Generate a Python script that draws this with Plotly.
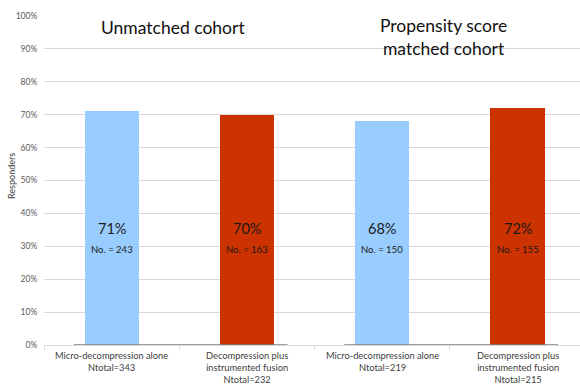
import plotly.graph_objects as go

# Responder rates by treatment group
categories = [
    "Micro-decompression alone<br>Ntotal=343",
    "Decompression plus<br>instrumented fusion<br>Ntotal=232",
    "Micro-decompression alone<br>Ntotal=219",
    "Decompression plus<br>instrumented fusion<br>Ntotal=215",
]
responder_rate = [0.71, 0.70, 0.68, 0.72]
responder_count = [243, 163, 150, 155]
bar_colors = ["#99CCFF", "#CC3300", "#99CCFF", "#CC3300"]
cohort_titles = ["Unmatched cohort", "Propensity score<br>matched cohort"]
y_ticks = [i / 10 for i in range(11)]

FONT = "Lato"
x_idx = list(range(len(categories)))
BAR_W = 0.4

fig = go.Figure()
fig.add_trace(go.Bar(
    x=x_idx, y=responder_rate, width=BAR_W,
    marker=dict(color=bar_colors, line=dict(width=0)),
    hoverinfo="skip",
))

annotations = []
for i, (v, n) in enumerate(zip(responder_rate, responder_count)):
    annotations.append(dict(x=i, y=0.353, xref="x", yref="y", text=f"{v:.0%}",
                            showarrow=False, font=dict(family=FONT, size=14.5, color="#1a1a1a")))
    annotations.append(dict(x=i, y=0.29, xref="x", yref="y", text=f"No. = {n}",
                            showarrow=False, font=dict(family=FONT, size=9.5, color="#1a1a1a")))
    annotations.append(dict(x=i, y=0, xref="x", yref="paper", yshift=-3, text=categories[i],
                            showarrow=False, yanchor="top", align="center",
                            font=dict(family=FONT, size=9.3, color="#404040")))

# cohort headings
annotations.append(dict(x=0.45, y=0.965, xref="x", yref="y", text=cohort_titles[0],
                        showarrow=False, yanchor="middle",
                        font=dict(family=FONT, size=17.5, color="#111111")))
annotations.append(dict(x=2.45, y=0.935, xref="x", yref="y", text=cohort_titles[1],
                        showarrow=False, yanchor="middle",
                        font=dict(family=FONT, size=17.5, color="#111111")))

# y-axis title
annotations.append(dict(x=-32 / 536, y=(345 - 176) / 329, xref="paper", yref="paper",
                        text="Responders", showarrow=False, textangle=-90,
                        xanchor="center", yanchor="middle",
                        font=dict(family=FONT, size=9, color="#404040")))

# darker baseline segment under each cohort's pair of bars
shapes = []
for a, b in [(0, 1), (2, 3)]:
    shapes.append(dict(type="line", xref="x", yref="y",
                       x0=a - BAR_W / 2 - 0.08, x1=b + BAR_W / 2 + 0.1, y0=0, y1=0,
                       line=dict(color="#7f7f7f", width=1.3)))

fig.update_layout(
    width=580, height=384,
    margin=dict(l=44, r=0, t=16, b=39),
    paper_bgcolor="white", plot_bgcolor="white",
    showlegend=False,
    annotations=annotations,
    shapes=shapes,
    bargap=0,
)
fig.update_xaxes(
    range=[-0.5, -0.5 + 536 / 135.3],
    tickvals=[-0.5, 0.5, 1.5, 2.5, 3.5], ticktext=["", "", "", "", ""],
    ticks="outside", ticklen=4, tickcolor="#d9d9d9",
    showgrid=False, zeroline=False, showline=False,
)
fig.update_yaxes(
    range=[0, 1], tickvals=y_ticks, tickformat=".0%",
    showgrid=True, gridcolor="#d9d9d9", gridwidth=1,
    zeroline=True, zerolinecolor="#d9d9d9", zerolinewidth=1,
    showline=False, ticks="outside", ticklen=4, tickcolor="rgba(0,0,0,0)",
    tickfont=dict(family=FONT, size=8.5, color="#595959"),
)

fig.write_html("out.html")
